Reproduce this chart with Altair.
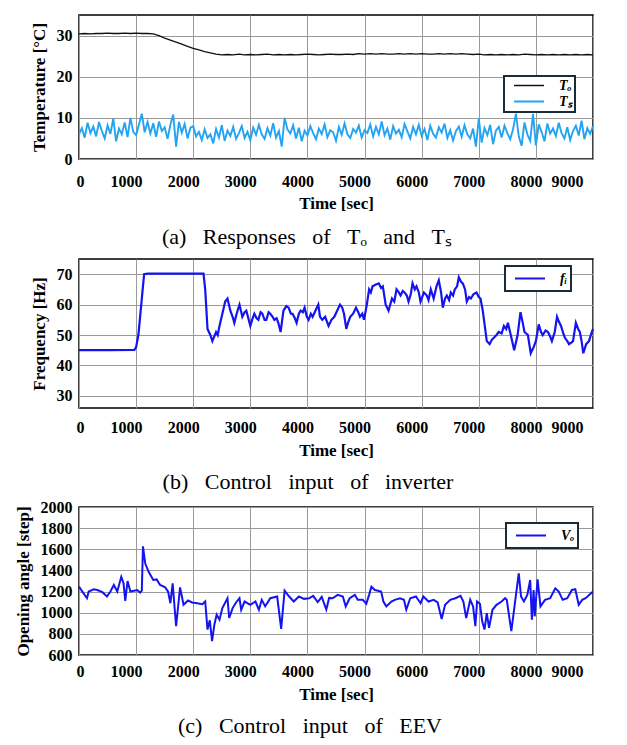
import altair as alt
import pandas as pd

# ---------------- data ----------------
TIME_TICKS = [0, 1000, 2000, 3000, 4000, 5000, 6000, 7000, 8000, 9000]

# (a) outdoor temperature T_o, every 100 s
TO_TIME = list(range(0, 9001, 100))
TO_VALUE = [
    30.4, 30.5, 30.4, 30.5, 30.5, 30.6, 30.5, 30.5, 30.6, 30.5, 30.6, 30.5, 30.5, 30.4,
    30.0, 29.4, 28.9, 28.4, 27.9, 27.4, 26.9, 26.5, 26.1, 25.8, 25.5, 25.3,
    25.4, 25.3, 25.5, 25.3, 25.4, 25.3, 25.4, 25.5, 25.3, 25.4,
    25.3, 25.4, 25.3, 25.4, 25.5, 25.4, 25.3, 25.4, 25.5, 25.4,
    25.4, 25.5, 25.4, 25.6, 25.5, 25.6, 25.5, 25.6, 25.5, 25.5,
    25.6, 25.5, 25.6, 25.5, 25.6, 25.5, 25.5, 25.6, 25.5, 25.6,
    25.5, 25.6, 25.5, 25.4, 25.5, 25.3, 25.4, 25.3, 25.4, 25.3,
    25.4, 25.3, 25.5, 25.4, 25.3, 25.4, 25.3, 25.4, 25.3, 25.4,
    25.3, 25.4, 25.3, 25.4, 25.3,
]

# (a) supply temperature T_s, every 50 s
TS_TIME = list(range(0, 9001, 50))
TS_VALUE = [
    6.0, 7.5, 5.2, 8.8, 6.3, 7.9, 5.5, 9.0, 6.8, 5.0, 8.2, 6.1, 9.8, 4.3, 7.4, 6.0, 8.9, 5.3, 10.0, 6.6,
    5.8, 8.4, 11.0, 6.5, 9.0, 6.2, 8.7, 5.4, 9.1, 6.8, 7.7, 4.9, 8.3, 10.8, 3.0, 9.0, 6.4, 8.5, 5.0, 7.6,
    8.0, 5.5, 6.6, 4.6, 7.2, 5.1, 6.0, 3.8, 7.3, 5.2, 8.2, 4.4, 6.9, 5.6, 7.8, 4.9, 6.3, 8.0, 5.1, 6.6,
    4.6, 7.6, 5.9, 8.3, 6.0, 4.9, 7.5, 5.7, 8.7, 5.2, 6.8, 3.0, 10.0, 7.2, 6.2, 8.2, 5.0, 7.6, 4.3, 6.9,
    5.7, 8.0, 6.3, 4.8, 7.4, 6.1, 8.4, 5.3, 7.0, 6.5, 4.4, 7.8, 5.9, 8.6, 6.0, 5.1, 7.3, 6.4, 8.1, 5.2,
    7.0, 6.3, 8.4, 5.5, 7.8, 6.0, 9.1, 5.8, 7.4, 4.7, 8.0, 6.2, 7.1, 5.3, 8.5, 6.7, 5.0, 7.8, 6.0, 8.3,
    5.6, 7.3, 4.6, 8.1, 6.1, 5.2, 7.7, 6.4, 8.6, 5.1, 7.0, 4.5, 6.8, 7.9, 5.4, 8.2, 6.0, 5.0, 7.4, 3.0,
    9.9, 4.0, 7.5, 5.8, 8.3, 3.6, 6.9, 7.8, 5.2, 8.1, 6.3, 4.8, 7.2, 11.0, 5.5, 3.2, 8.9, 6.0, 4.4, 11.0,
    3.3, 8.4, 6.6, 4.3, 8.6, 6.2, 7.4, 5.6, 8.8, 6.3, 5.0, 7.7, 4.6, 6.8, 8.1, 5.7, 9.3, 4.8, 7.5, 6.1,
    8.0,
]

# (b) inverter frequency f_i
FI_TIME = [0, 500, 970, 1000, 1040, 1090, 1140, 1200, 1600, 2000, 2180, 2210, 2250, 2300, 2335,
           2400, 2430, 2460, 2510, 2560, 2600, 2650, 2690, 2720, 2760, 2810, 2860, 2900, 2930,
           3000, 3040, 3070, 3110, 3140, 3180, 3210, 3250, 3280, 3320, 3350, 3390, 3420, 3460,
           3490, 3530, 3580, 3630, 3670, 3710, 3740, 3780, 3810, 3850, 3880, 3920, 3950, 3990,
           4020, 4060, 4090, 4140, 4190, 4220, 4260, 4310, 4370, 4420, 4470, 4520, 4570, 4610,
           4640, 4680, 4710, 4750, 4800, 4850, 4890, 4920, 4960, 4990, 5040, 5080, 5110, 5140,
           5190, 5250, 5290, 5320, 5370, 5420, 5480, 5520, 5560, 5600, 5630, 5670, 5700, 5740,
           5770, 5810, 5840, 5880, 5910, 5950, 5980, 6040, 6090, 6120, 6160, 6210, 6260, 6300,
           6340, 6370, 6410, 6440, 6480, 6510, 6550, 6580, 6620, 6650, 6690, 6720, 6760, 6790,
           6830, 6860, 6910, 6960, 7000, 7030, 7070, 7140, 7190, 7230, 7260, 7310, 7350, 7400,
           7440, 7480, 7510, 7560, 7620, 7680, 7730, 7770, 7800, 7860, 7910, 7960, 8000, 8050,
           8090, 8120, 8170, 8210, 8250, 8280, 8330, 8370, 8400, 8440, 8480, 8510, 8550, 8580,
           8620, 8650, 8700, 8740, 8770, 8800, 8830, 8880, 8930, 8970, 9000]
FI_VALUE = [45.0, 45.0, 45.1, 46, 50, 60, 70, 70.2, 70.2, 70.2, 70.2, 65, 52, 50, 48,
            51, 50, 53, 57, 61, 62, 58, 56, 54, 57, 60, 56, 57.5, 58,
            53, 55.5, 57, 55.5, 55, 57.5, 57, 55, 55, 57.5, 57, 56, 55, 55.5,
            54, 51, 58, 59.5, 59, 57, 57, 55.5, 54, 57, 58, 57.5, 59, 56,
            55, 57, 56, 58, 60, 56, 55, 56, 53, 55, 56, 58, 60, 59,
            57, 52, 54, 56, 57, 59, 57.5, 56, 57, 55, 60, 65, 64, 66,
            66.5, 67, 65.5, 66, 60, 58, 62, 61, 65, 64, 63, 64.5, 64, 63,
            61, 63.5, 67, 65, 66, 64, 61, 64, 63, 61.5, 65, 62, 66, 68,
            64, 59, 62, 63, 61.5, 64, 63, 65, 66, 69, 67.5, 67, 65, 61,
            62.5, 62, 63.5, 64, 62.5, 62, 58, 48, 47, 48.5, 49, 50, 51, 50.5,
            53, 52, 54, 50, 45, 50, 57.5, 54, 51, 50, 44, 46, 48, 53.5,
            51, 50, 51.5, 51, 49.5, 48, 51, 56, 54.5, 53, 50.5, 49, 48, 47,
            47.5, 48, 54, 52, 51, 48, 44, 47, 48, 50.5, 52]

# (c) EEV opening V_o
VO_TIME = [0, 50, 140, 170, 260, 320, 410, 490, 550, 610, 670, 740, 780, 810, 850, 900, 1020,
           1070, 1100, 1120, 1160, 1220, 1300, 1360, 1420, 1510, 1560, 1600, 1640, 1700, 1770,
           1830, 1910, 1980, 2070, 2160, 2210, 2250, 2290, 2330, 2370, 2410, 2460, 2510, 2600,
           2630, 2690, 2750, 2810, 2840, 2900, 3000, 3090, 3150, 3200, 3260, 3350, 3470, 3540,
           3600, 3680, 3760, 3850, 3940, 4030, 4100, 4180, 4250, 4330, 4380, 4440, 4530, 4620,
           4670, 4740, 4830, 4880, 4970, 5030, 5080, 5120, 5180, 5290, 5330, 5380, 5470, 5530,
           5620, 5690, 5730, 5800, 5900, 5980, 6030, 6120, 6210, 6280, 6350, 6410, 6500, 6590,
           6680, 6730, 6780, 6850, 6900, 6940, 6970, 7020, 7060, 7100, 7140, 7180, 7240, 7310,
           7400, 7460, 7490, 7570, 7640, 7700, 7740, 7790, 7850, 7900, 7930, 7960, 7980, 8030,
           8080, 8160, 8250, 8340, 8400, 8470, 8550, 8630, 8690, 8750, 8810, 8870, 9000]
VO_VALUE = [1247, 1206, 1137, 1200, 1222, 1215, 1194, 1153, 1200, 1262, 1200, 1340, 1278, 1112,
            1300, 1200, 1215, 1190, 1210, 1628, 1465, 1387, 1310, 1315, 1262, 1240, 1200, 1090,
            1278, 872, 1240, 1075, 1115, 1097, 1090, 1080, 1106, 840, 928, 731, 887, 981, 934,
            1044, 1137, 950, 1044, 1097, 1137, 1028, 1106, 1075, 1106, 1028, 1122, 1060, 1137,
            1153, 847, 1209, 1153, 1106, 1153, 1131, 1137, 1160, 1100, 1150, 1030, 1140, 1137,
            1169, 1153, 1060, 1137, 1169, 1122, 1122, 1084, 1169, 1247, 1215, 1200, 1106, 1060,
            1106, 1122, 1137, 1122, 1028, 1137, 1153, 1090, 1153, 1106, 1122, 1097, 941, 1075,
            1122, 1137, 1159, 1106, 950, 1122, 1060, 872, 1106, 1084, 918, 841, 997, 856, 1028,
            1075, 1106, 1137, 1122, 825, 1122, 1372, 1153, 1106, 1169, 1309, 934, 1215, 966,
            1316, 1060, 1122, 1137, 1231, 1200, 1122, 1137, 1215, 1222, 1075, 1122, 1137, 1200]

SERIES_A = ["T\u2092", "T\u209b"]
COLORS_A = ["#111111", "#22a4f2"]
BLUE = "#1414f0"

# ---------------- frames ----------------
df_a = pd.concat([
    pd.DataFrame({"t": TO_TIME, "v": TO_VALUE, "s": SERIES_A[0]}),
    pd.DataFrame({"t": TS_TIME, "v": TS_VALUE, "s": SERIES_A[1]}),
])
df_b = pd.DataFrame({"t": FI_TIME, "v": FI_VALUE, "s": "f\u1d62"})
df_c = pd.DataFrame({"t": VO_TIME, "v": VO_VALUE, "s": "V\u2092"})

SERIF = "Liberation Serif"
W = 514
GAP = "\u2002\u2005"


def x_enc(lp, tp):
    return alt.X("t:Q", scale=alt.Scale(domain=[0, 9000], nice=False, zero=False),
                 axis=alt.Axis(values=TIME_TICKS, title="Time [sec]", format="d",
                               labelPadding=lp, titlePadding=tp,
                               labelOffset=alt.condition("datum.value == 0",
                                                         alt.value(-3), alt.value(-10))))


def legend(lx, ly, clip):
    return alt.Legend(orient="none", legendX=lx, legendY=ly, title=None,
                      symbolType="stroke", symbolSize=900, symbolStrokeWidth=2,
                      clipHeight=clip, symbolOffset=6,
                      labelFont=SERIF, labelFontStyle="italic", labelFontWeight="bold",
                      labelFontSize=14, labelOffset=14, padding=3, rowPadding=1,
                      strokeColor="#1c2b3a", fillColor="white", cornerRadius=0)


def caption(text, dx, off):
    return alt.TitleParams(text=text, orient="bottom", anchor="middle", frame="group",
                           font=SERIF, fontSize=22, fontWeight="normal", color="black",
                           offset=off, dx=dx)


chart_a = alt.Chart(df_a, title=caption(
    GAP.join(["(a)", "Responses", "of", "T\u2092", "and", "T\u209b"]), -29, 16)).mark_line().encode(
    x=x_enc(14, 6),
    y=alt.Y("v:Q", scale=alt.Scale(domain=[0, 35], nice=False),
            axis=alt.Axis(values=[0, 10, 20, 30], title="Temperature [\u00b0C]")),
    color=alt.Color("s:N", scale=alt.Scale(domain=SERIES_A, range=COLORS_A),
                    sort=SERIES_A, legend=legend(425, 61, 13)),
    strokeWidth=alt.StrokeWidth("s:N", scale=alt.Scale(domain=SERIES_A, range=[1.3, 1.9]),
                                legend=None),
).properties(width=W, height=144)

chart_b = alt.Chart(df_b, title=caption(
    GAP.join(["(b)", "Control", "input", "of", "inverter"]), -28, 14)).mark_line(strokeWidth=2.2).encode(
    x=x_enc(11, 7),
    y=alt.Y("v:Q", scale=alt.Scale(domain=[26, 75], nice=False, zero=False),
            axis=alt.Axis(values=[30, 40, 50, 60, 70], title="Frequency [Hz]")),
    color=alt.Color("s:N", scale=alt.Scale(range=[BLUE]), legend=legend(426, 7, 19)),
).properties(width=W, height=149)

chart_c = alt.Chart(df_c, title=caption(
    GAP.join(["(c)", "Control", "input", "of", "EEV"]), -26, 14)).mark_line(strokeWidth=2).encode(
    x=x_enc(8, 7),
    y=alt.Y("v:Q", scale=alt.Scale(domain=[600, 2000], nice=False, zero=False),
            axis=alt.Axis(values=list(range(600, 2001, 200)), format="d",
                          title="Opening angle [step]")),
    color=alt.Color("s:N", scale=alt.Scale(range=[BLUE]), legend=legend(427, 16, 19)),
).properties(width=W, height=148)

top = alt.vconcat(chart_a, chart_b, spacing=9).resolve_scale(
    color="independent", strokeWidth="independent")

chart = alt.vconcat(top, chart_c, spacing=4).resolve_scale(
    color="independent", strokeWidth="independent"
).configure(
    padding={"left": 5, "top": 6, "right": 5, "bottom": 5},
    background="white",
).configure_view(
    stroke="black", strokeWidth=1.5,
).configure_axis(
    labelFont=SERIF, labelFontWeight="bold", labelFontSize=16, labelColor="black",
    titleFont=SERIF, titleFontWeight="bold", titleFontSize=17, titleColor="black",
    gridColor="#9a9a9a", gridWidth=1, gridOpacity=1, domain=False, ticks=False, tickSize=0,
).configure_axisY(
    labelPadding=7, titlePadding=8,
).configure_legend(
    labelColor="black", strokeWidth=2,
)

chart.save("out.html", embed_options={"renderer": "svg", "actions": False})
